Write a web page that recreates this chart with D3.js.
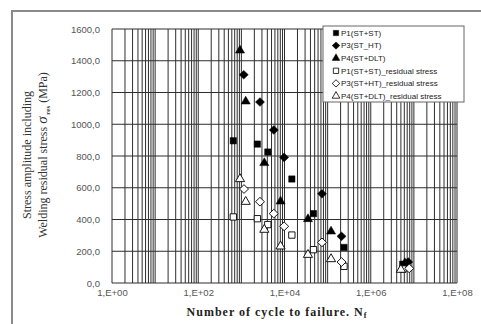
<!DOCTYPE html>
<html>
<head>
<meta charset="utf-8">
<script src="https://cdn.jsdelivr.net/npm/d3@7"></script>
<style>
  body { margin: 0; background: #fff; }
  svg { display: block; }
</style>
</head>
<body>
<svg id="plot-container"></svg>
<script>
// cycles to failure (Nf) and stress amplitude (MPa)
const p1N = [650, 2350, 4100, 14800, 47000, 240000, 5.5e6];
const p1S = [896, 875, 825, 655, 437, 224, 118];
const p1resN = [650, 2350, 4100, 14800, 47000, 240000, 5.6e6];
const p1resS = [416, 405, 368, 302, 210, 105, 88];

const p3N = [1135, 2700, 5640, 9800, 74000, 210000, 7.4e6];
const p3S = [1312, 1140, 964, 791, 562, 294, 132];
const p3resN = [1150, 2700, 5640, 9800, 74000, 210000, 7.8e6];
const p3resS = [592, 512, 437, 357, 256, 132, 92];

const p4N = [930, 1260, 3400, 8100, 35000, 120000, 6.2e6];
const p4S = [1465, 1144, 756, 514, 403, 325, 126];
const p4resN = [930, 1260, 3400, 8100, 35000, 120000, 5.0e6];
const p4resS = [655, 512, 336, 231, 178, 151, 84];

const seriesNames = [
  "P1(ST+ST)",
  "P3(ST_HT)",
  "P4(ST+DLT)",
  "P1(ST+ST)_residual stress",
  "P3(ST+HT)_residual stress",
  "P4(ST+DLT)_residual stress",
];
const yTicks = [0, 200, 400, 600, 800, 1000, 1200, 1400, 1600];
const xTickLabels = ["1,E+00", "1,E+02", "1,E+04", "1,E+06", "1,E+08"];

// squat rhombus, wider than d3.symbolDiamond
const wideDiamond = {
  draw(context, size) {
    const r = Math.sqrt(size / 2);
    context.moveTo(0, -r * 1.05);
    context.lineTo(r * 1.1, 0);
    context.lineTo(0, r * 1.05);
    context.lineTo(-r * 1.1, 0);
    context.closePath();
  },
};

class SNChart {
  constructor(series, layout) {
    this.series = series;
    this.layout = layout;
    this.innerWidth = layout.width - layout.margin.left - layout.margin.right;
    this.innerHeight = layout.height - layout.margin.top - layout.margin.bottom;
    this.render();
  }
  render() {
    const { width, height, margin } = this.layout;
    const svg = d3.select("svg#plot-container").attr("width", width).attr("height", height);

    // outer frame (only top and left edges are visible in the crop)
    svg.append("path")
      .attr("d", `M12,${height} V11 H${width}`)
      .attr("fill", "none")
      .attr("stroke", "#8a8a8a")
      .attr("stroke-width", 2);

    const xScale = d3.scaleLog().domain([1, 1e8]).range([0, this.innerWidth]);
    const yScale = d3.scaleLinear().domain([0, 1600]).range([this.innerHeight, 0]);

    const plot = svg.append("g").attr("transform", `translate(${margin.left}, ${margin.top})`);

    // grid
    plot.append("g")
      .selectAll("line")
      .data(xScale.ticks())
      .join("line")
      .attr("x1", (d) => xScale(d))
      .attr("x2", (d) => xScale(d))
      .attr("y1", 0)
      .attr("y2", this.innerHeight)
      .attr("stroke", "#2e2e2e")
      .attr("stroke-width", 1);
    plot.append("g")
      .selectAll("line")
      .data(yTicks)
      .join("line")
      .attr("x1", 0)
      .attr("x2", this.innerWidth)
      .attr("y1", (d) => yScale(d))
      .attr("y2", (d) => yScale(d))
      .attr("stroke", "#2e2e2e")
      .attr("stroke-width", 1);

    // axes labels
    const yAxis = d3.axisLeft(yScale)
      .tickValues(yTicks)
      .tickSize(0)
      .tickPadding(12)
      .tickFormat((d) => d3.format(".1f")(d).replace(".", ","));
    plot.append("g").call(yAxis)
      .call((g) => g.select(".domain").remove())
      .selectAll("text")
      .attr("font-family", "Liberation Sans, Arial, sans-serif")
      .attr("font-size", 9.5)
      .attr("fill", "#555");

    const xAxis = d3.axisBottom(xScale)
      .tickValues([1, 1e2, 1e4, 1e6, 1e8])
      .tickSize(0)
      .tickPadding(6)
      .tickFormat((d, i) => xTickLabels[i]);
    plot.append("g").attr("transform", `translate(0, ${this.innerHeight})`).call(xAxis)
      .call((g) => g.select(".domain").remove())
      .selectAll("text")
      .attr("font-family", "Liberation Sans, Arial, sans-serif")
      .attr("font-size", 9.5)
      .attr("fill", "#555");

    // markers
    const symbolPath = (s, k = 1) => d3.symbol().type(s.type).size(s.size * k)();
    this.series.forEach((s) => {
      plot.append("g")
        .selectAll("path")
        .data(d3.zip(s.n, s.v))
        .join("path")
        .attr("transform", ([n, v]) => `translate(${xScale(n)}, ${yScale(v)})`)
        .attr("d", symbolPath(s))
        .attr("fill", s.filled ? "#000" : "#fff")
        .attr("stroke", "#000")
        .attr("stroke-width", s.filled ? 0.5 : 0.9);
    });

    // legend
    const legend = svg.append("g").attr("transform", "translate(323, 26)");
    legend.append("rect")
      .attr("width", 141)
      .attr("height", 76)
      .attr("fill", "#fff")
      .attr("stroke", "#666")
      .attr("stroke-width", 1);
    const rows = legend.selectAll("g.row")
      .data(this.series)
      .join("g")
      .attr("class", "row")
      .attr("transform", (_, i) => `translate(13, ${7 + i * 12.6})`);
    rows.append("path")
      .attr("d", (s) => symbolPath(s, 0.7))
      .attr("fill", (s) => (s.filled ? "#000" : "#fff"))
      .attr("stroke", "#000")
      .attr("stroke-width", (s) => (s.filled ? 0.5 : 0.8));
    rows.append("text")
      .attr("x", 5)
      .attr("dy", "0.35em")
      .attr("font-family", "Liberation Sans, Arial, sans-serif")
      .attr("font-size", 8)
      .attr("fill", "#222")
      .text((s) => s.name);

    // titles
    svg.append("text")
      .attr("x", 277)
      .attr("y", 316)
      .attr("text-anchor", "middle")
      .attr("font-family", "Liberation Serif, serif")
      .attr("font-weight", "bold")
      .attr("font-size", 12)
      .attr("letter-spacing", 1)
      .attr("fill", "#222")
      .call((t) => {
        t.append("tspan").text("Number of cycle to failure. N");
        t.append("tspan").attr("font-size", 8).attr("dy", 2).text("f");
      });

    const yTitle = svg.append("g").attr("transform", "translate(0, 155) rotate(-90)");
    yTitle.append("text")
      .attr("y", 31)
      .attr("text-anchor", "middle")
      .attr("font-family", "Liberation Serif, serif")
      .attr("font-size", 12)
      .attr("fill", "#333")
      .text("Stress amplitude including");
    yTitle.append("text")
      .attr("y", 47)
      .attr("text-anchor", "middle")
      .attr("font-family", "Liberation Serif, serif")
      .attr("font-size", 12)
      .attr("fill", "#333")
      .call((t) => {
        t.append("tspan").text("Welding residual stress ");
        t.append("tspan").attr("font-size", 15).attr("font-style", "italic").text("σ");
        t.append("tspan").attr("font-size", 7).attr("font-weight", "bold").attr("dy", 3).text(" res");
        t.append("tspan").attr("dy", -3).text(" (MPa)");
      });
  }
}

function main() {
  const series = [
    { name: seriesNames[0], n: p1N, v: p1S, type: d3.symbolSquare, size: 40, filled: true },
    { name: seriesNames[1], n: p3N, v: p3S, type: wideDiamond, size: 34, filled: true },
    { name: seriesNames[2], n: p4N, v: p4S, type: d3.symbolTriangle, size: 36, filled: true },
    { name: seriesNames[3], n: p1resN, v: p1resS, type: d3.symbolSquare, size: 40, filled: false },
    { name: seriesNames[4], n: p3resN, v: p3resS, type: wideDiamond, size: 34, filled: false },
    { name: seriesNames[5], n: p4resN, v: p4resS, type: d3.symbolTriangle, size: 36, filled: false },
  ];
  const layout = {
    width: 481,
    height: 324,
    margin: { left: 112, right: 24, top: 29, bottom: 41 },
  };
  const chart = new SNChart(series, layout);
}

main();
</script>
</body>
</html>
